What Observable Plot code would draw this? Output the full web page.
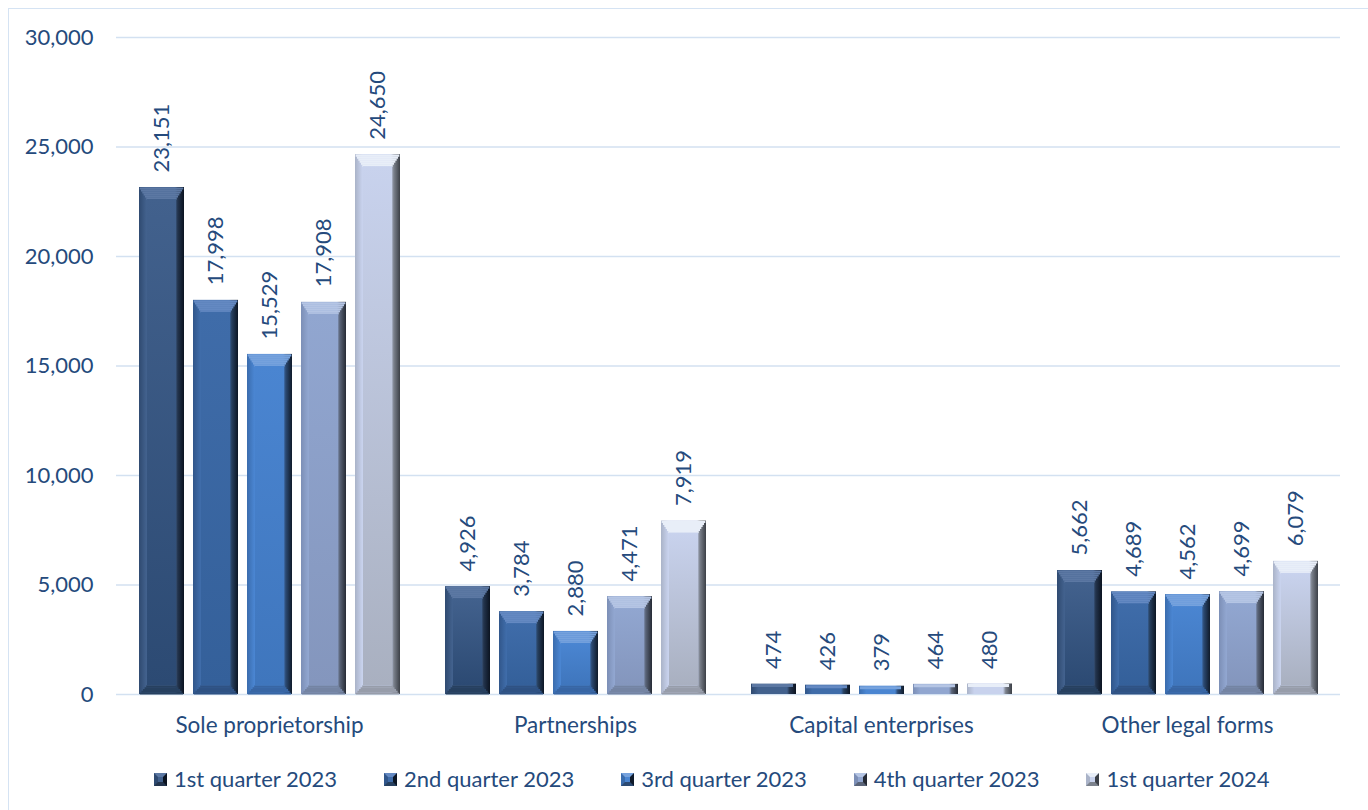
<!DOCTYPE html>
<html>
<head>
<meta charset="utf-8">
<script src="https://cdn.jsdelivr.net/npm/d3@7"></script>
<script src="https://cdn.jsdelivr.net/npm/@observablehq/plot@0.6"></script>
<style>
  html, body { margin: 0; padding: 0; background: #fff; width: 1368px; height: 810px; overflow: hidden; }
  body { font-family: Lato, "Noto Sans", sans-serif; position: relative; }
  #frame { position: absolute; left: 8px; top: 8px; width: 1420px; height: 900px; border: 1.5px solid #d5e3f3; box-sizing: border-box; }
  #chart { position: absolute; left: 0; top: 0; }
  #legend { position: absolute; left: 154px; top: 767px; display: flex; gap: 47px; font-size: 22px; line-height: 24px; color: #254a7c; white-space: nowrap; }
  .item { display: flex; align-items: center; gap: 7px; }
  .swatch { display: inline-block; width: 13px; height: 13px; box-sizing: border-box; border-style: solid; border-width: 4px; }
</style>
</head>
<body>
<div id="frame"></div>
<div id="chart"></div>
<div id="legend"></div>
<script>
// ---- data ----
const categories = ["Sole proprietorship", "Partnerships", "Capital enterprises", "Other legal forms"];
const series = ["1st quarter 2023", "2nd quarter 2023", "3rd quarter 2023", "4th quarter 2023", "1st quarter 2024"];
const soleValues = [23151, 17998, 15529, 17908, 24650];
const partnershipValues = [4926, 3784, 2880, 4471, 7919];
const capitalValues = [474, 426, 379, 464, 480];
const otherValues = [5662, 4689, 4562, 4699, 6079];
const yTicks = [0, 5000, 10000, 15000, 20000, 25000, 30000];

// ---- styles ----
const textColor = "#254a7c";
const faceTop    = ["#42618d", "#3f6ca9", "#4a85d1", "#91a6d0", "#c8d2ed"];
const faceBottom = ["#2c4a73", "#34609a", "#3f76bd", "#8496bd", "#a9b0c0"];
const leftC      = ["#2f4a70", "#31568a", "#3a6cad", "#7c8fb6", "#aab3c8"];
const rightC1    = ["#23344d", "#27405f", "#2c4a73", "#5a6478", "#7c828d"];
const rightC2    = ["#0b1320", "#0c1624", "#0f1a2a", "#262b35", "#3c4047"];
const topC       = ["#5c78a3", "#6489c2", "#76a2dd", "#b5c5e4", "#e8eef8"];
const bottomC    = ["#27405f", "#2f5283", "#3866a4", "#7484a3", "#979daa"];

// gradient definitions (in a hidden svg in the document)
const defsSvg = document.createElementNS("http://www.w3.org/2000/svg", "svg");
defsSvg.setAttribute("width", 0);
defsSvg.setAttribute("height", 0);
defsSvg.style.position = "absolute";
defsSvg.innerHTML = "<defs>" + series.map((s, i) => `
  <linearGradient id="frame${i}" x1="0" y1="0" x2="1" y2="0">
    <stop offset="0" stop-color="${leftC[i]}"/>
    <stop offset="0.16" stop-color="${faceTop[i]}"/>
    <stop offset="0.8" stop-color="${faceTop[i]}"/>
    <stop offset="0.86" stop-color="${rightC1[i]}"/>
    <stop offset="1" stop-color="${rightC2[i]}"/>
  </linearGradient>
  <linearGradient id="face${i}" x1="0" y1="0" x2="0" y2="1">
    <stop offset="0" stop-color="${faceTop[i]}"/>
    <stop offset="1" stop-color="${faceBottom[i]}"/>
  </linearGradient>`).join("") + "</defs>";
document.body.appendChild(defsSvg);

const valuesByCategory = [soleValues, partnershipValues, capitalValues, otherValues];
const data = categories.flatMap((c, ci) =>
  valuesByCategory[ci].map((v, si) => ({category: c, series: series[si], si, value: v}))
);

const fmt = d3.format(",");
const common = {fx: "category", x: "series", y: "value"};

const topSteps = d3.range(6);     // 6 strips of 2px -> trapezoid top facet
const bottomSteps = d3.range(5);  // 5 strips of 1.8px -> trapezoid bottom facet

const barMarks = series.flatMap((s, i) => {
  const rows = data.filter(d => d.si === i);
  const big = rows.filter(d => d.value >= 1500);
  const small = rows.filter(d => d.value < 1500);
  return [
    Plot.barY(rows, {...common, fill: `url(#frame${i})`}),
    ...topSteps.map(k => Plot.tickY(big, {...common, stroke: topC[i], strokeWidth: 2.1, dy: 1 + 2 * k,
      insetLeft: (k + 0.5) * 8 / 6, insetRight: (k + 0.5) * 8 / 6})),
    Plot.tickY(small, {...common, stroke: topC[i], strokeWidth: 3, dy: 1.5, insetLeft: 1, insetRight: 3}),
    ...bottomSteps.map(k => Plot.tickY(big, {fx: "category", x: "series", y: d => 0, stroke: bottomC[i], strokeWidth: 1.9,
      dy: -(0.9 + 1.8 * k), insetLeft: (k + 0.5) * 8 / 5, insetRight: (k + 0.5) * 8 / 5})),
    Plot.barY(big, {...common, fill: `url(#face${i})`, insetLeft: 8, insetRight: 8, insetTop: 12, insetBottom: 9})
  ];
});

const chart = Plot.plot({
  width: 1368,
  height: 744,
  marginLeft: 115,
  marginRight: 28,
  marginTop: 37,
  marginBottom: 50,
  style: {fontFamily: "Lato, 'Noto Sans', sans-serif", fontSize: "22px", color: textColor, background: "transparent", overflow: "visible"},
  fx: {domain: categories, padding: 0, label: null},
  x: {domain: series, paddingInner: 0.174, paddingOuter: 0.397, axis: null},
  y: {domain: [0, 30000], label: null},
  marks: [
    Plot.gridY({ticks: yTicks, stroke: "#d3e1f1", strokeOpacity: 1, strokeWidth: 1.6}),
    Plot.axisY({ticks: yTicks, anchor: "left", tickSize: 0, tickPadding: 23, tickFormat: fmt, label: null, fontSize: 22}),
    Plot.axisFx({anchor: "bottom", tickSize: 0, tickPadding: 23, label: null, fontSize: 22.5}),
    ...barMarks,
    Plot.text(data, {...common, text: d => fmt(d.value), rotate: -90, textAnchor: "start", dy: -15, fontSize: 22, fill: textColor})
  ]
});
document.getElementById("chart").appendChild(chart);

// legend
const legend = document.getElementById("legend");
series.forEach((s, i) => {
  const item = document.createElement("div");
  item.className = "item";
  const sw = document.createElement("span");
  sw.className = "swatch";
  sw.style.background = faceTop[i];
  sw.style.borderTopColor = topC[i];
  sw.style.borderLeftColor = leftC[i];
  sw.style.borderRightColor = rightC2[i];
  sw.style.borderBottomColor = rightC1[i];
  const label = document.createElement("span");
  label.textContent = s;
  item.appendChild(sw);
  item.appendChild(label);
  legend.appendChild(item);
});
</script>
</body>
</html>
